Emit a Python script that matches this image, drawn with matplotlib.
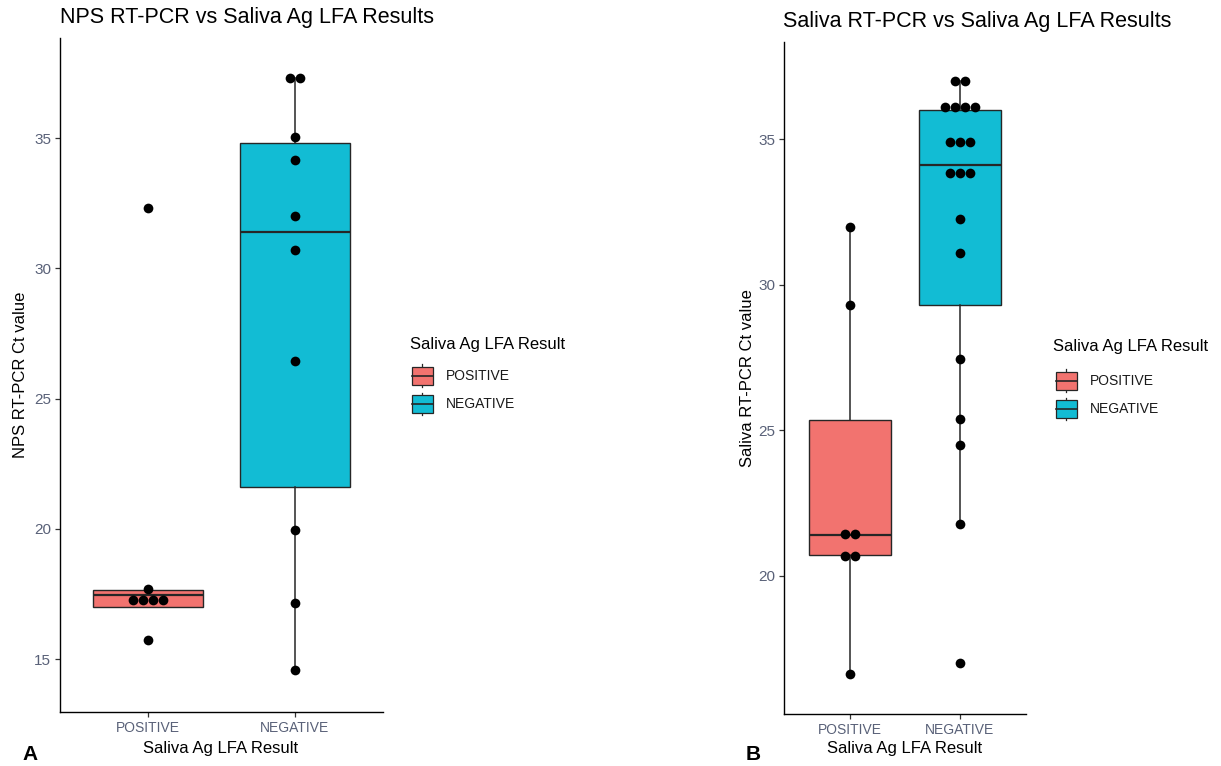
"""
Box plot + dot plot of RT-PCR Ct values grouped by saliva Ag LFA result.
Two panels: (A) NPS RT-PCR, (B) saliva RT-PCR.
"""

import matplotlib
matplotlib.use('Agg')
import matplotlib.pyplot as plt
from matplotlib.patches import Patch, Rectangle
from matplotlib.lines import Line2D
from matplotlib.legend_handler import HandlerBase
from matplotlib.transforms import ScaledTranslation

plt.rcParams['font.family'] = ['Liberation Sans', 'DejaVu Sans']

# ==================== DATI ====================

categories = ['POSITIVE', 'NEGATIVE']
legend_title = 'Saliva Ag LFA Result'
x_label = 'Saliva Ag LFA Result'

# Pannello A: NPS RT-PCR
a_title = 'NPS RT-PCR vs Saliva Ag LFA Results'
a_ylabel = 'NPS RT-PCR Ct value'
a_pos_ct = [32.3, 17.7, 17.25, 17.25, 17.25, 17.25, 15.75]
a_neg_ct = [37.3, 37.3, 35.05, 34.15, 32.0, 30.7, 26.45, 19.95, 17.15, 14.6]
# statistiche box: whislo, q1, med, q3, whishi
a_pos_box = [17.0, 17.0, 17.45, 17.65, 17.7]
a_neg_box = [14.6, 21.6, 31.4, 34.8, 37.3]
a_yticks = [15, 20, 25, 30, 35]
a_ylim = (12.97, 38.84)

# Pannello B: Saliva RT-PCR
b_title = 'Saliva RT-PCR vs Saliva Ag LFA Results'
b_ylabel = 'Saliva RT-PCR Ct value'
b_pos_ct = [32.0, 29.3, 21.45, 21.45, 20.7, 20.7, 16.65]
b_neg_ct = [37.0, 37.0, 36.1, 36.1, 36.1, 36.1, 34.9, 34.9, 34.9,
            33.85, 33.85, 33.85, 32.25, 31.1, 27.45, 25.4, 24.5, 21.8, 17.0]
b_pos_box = [16.65, 20.72, 21.4, 25.36, 32.0]
b_neg_box = [21.8, 29.3, 34.1, 36.0, 37.0]
b_yticks = [20, 25, 30, 35]
b_ylim = (15.25, 38.35)

# ==================== STILE ====================

COL_POS = '#f2736f'
COL_NEG = '#12bcd4'
EDGE = '#262626'
TICK_GREY = '#596178'
W, H = 1221, 766


class BoxKeyHandler(HandlerBase):
    """Chiave di legenda stile ggplot (box con mediana e baffi)."""

    def create_artists(self, legend, orig_handle, xdescent, ydescent,
                       width, height, fontsize, trans):
        x0, y0 = -xdescent, -ydescent
        fc = orig_handle.get_facecolor()
        lo, hi = y0 + 0.14 * height, y0 + 0.86 * height
        wl = Line2D([x0 + width / 2] * 2, [y0 + 0.02 * height, lo],
                    color=EDGE, lw=0.9, transform=trans)
        wh = Line2D([x0 + width / 2] * 2, [hi, y0 + 0.98 * height],
                    color=EDGE, lw=0.9, transform=trans)
        box = Rectangle((x0, lo), width, hi - lo,
                        facecolor=fc, edgecolor=EDGE, lw=0.9, transform=trans)
        med = Line2D([x0, x0 + width], [y0 + 0.5 * height] * 2,
                     color=EDGE, lw=1.2, transform=trans)
        return [wl, wh, box, med]


def dotplot(ax, fig, xpos, values, step_in=0.1):
    """Punti impilati orizzontalmente quando i valori coincidono."""
    groups = {}
    for v in values:
        groups[v] = groups.get(v, 0) + 1
    for v, n in groups.items():
        for k in range(n):
            dx = (k - (n - 1) / 2) * step_in
            tr = ax.transData + ScaledTranslation(dx, 0, fig.dpi_scale_trans)
            ax.plot([xpos], [v], 'o', color='black', ms=7.0, mew=0,
                    transform=tr, zorder=5, clip_on=False)


def panel(fig, rect, pos_ct, neg_ct, pos_box, neg_box, yticks, ylim):
    ax = fig.add_axes(rect)
    stats = []
    for lab, b in zip(categories, [pos_box, neg_box]):
        stats.append({'label': lab, 'whislo': b[0], 'q1': b[1], 'med': b[2],
                      'q3': b[3], 'whishi': b[4], 'fliers': []})
    bp = ax.bxp(stats, positions=[1, 2], widths=0.75, patch_artist=True,
                showcaps=False, showfliers=False,
                boxprops=dict(edgecolor=EDGE, linewidth=1.0),
                whiskerprops=dict(color=EDGE, linewidth=1.1),
                medianprops=dict(color=EDGE, linewidth=1.6))
    for patch, c in zip(bp['boxes'], [COL_POS, COL_NEG]):
        patch.set_facecolor(c)
    dotplot(ax, fig, 1, pos_ct)
    dotplot(ax, fig, 2, neg_ct)

    ax.set_xlim(0.4, 2.6)
    ax.set_ylim(*ylim)
    ax.set_xticks([1, 2])
    ax.set_xticklabels(categories)
    ax.set_yticks(yticks)
    for s in ['top', 'right']:
        ax.spines[s].set_visible(False)
    for s in ['left', 'bottom']:
        ax.spines[s].set_linewidth(1.0)
        ax.spines[s].set_color('black')
    ax.tick_params(length=3.5, width=0.9, color='#333333',
                   labelcolor=TICK_GREY, pad=3)
    ax.tick_params(axis='x', labelsize=10)
    ax.tick_params(axis='y', labelsize=11)
    return ax


fig = plt.figure(figsize=(W / 100, H / 100), dpi=100)

# ==================== PANNELLO A ====================
ax_a = panel(fig, [60 / W, 1 - 712 / H, 323 / W, 674 / H],
             a_pos_ct, a_neg_ct, a_pos_box, a_neg_box, a_yticks, a_ylim)
fig.text(60 / W, 1 - 18 / H, a_title, fontsize=15.5, ha='left', va='center')
fig.text(21 / W, 1 - 375 / H, a_ylabel, fontsize=12, rotation=90,
         ha='center', va='center')
fig.text(221 / W, 1 - 748 / H, x_label, fontsize=12, ha='center', va='center')
fig.text(30 / W, 1 - 755 / H, 'A', fontsize=15, fontweight='bold',
         ha='center', va='center')

# ==================== PANNELLO B ====================
ax_b = panel(fig, [784 / W, 1 - 714.3 / H, 242 / W, 672.6 / H],
             b_pos_ct, b_neg_ct, b_pos_box, b_neg_box, b_yticks, b_ylim)
fig.text(783 / W, 1 - 22 / H, b_title, fontsize=15.5, ha='left', va='center')
fig.text(747 / W, 1 - 378 / H, b_ylabel, fontsize=12, rotation=90,
         ha='center', va='center')
fig.text(905 / W, 1 - 748 / H, x_label, fontsize=12, ha='center', va='center')
fig.text(753 / W, 1 - 754 / H, 'B', fontsize=15, fontweight='bold',
         ha='center', va='center')

# ==================== LEGENDE ====================
handles = [Patch(facecolor=COL_POS), Patch(facecolor=COL_NEG)]
# (x titolo, y titolo, x chiavi, y top chiavi) in pixel
for xt, yt, xk, yk in [(410, 345, 412, 364), (1053, 347, 1056, 369)]:
    fig.text(xt / W, 1 - yt / H, legend_title, fontsize=12,
             ha='left', va='center')
    leg = fig.legend(handles, categories,
                     loc='upper left', bbox_to_anchor=(xk / W, 1 - yk / H),
                     frameon=False, borderpad=0, borderaxespad=0,
                     fontsize=10, handlelength=1.5, handleheight=2.27,
                     handletextpad=0.95, labelspacing=0.3,
                     handler_map={Patch: BoxKeyHandler()})
    for t in leg.get_texts():
        t.set_color('#1a1a1a')

fig.savefig('out.png', dpi=100)
